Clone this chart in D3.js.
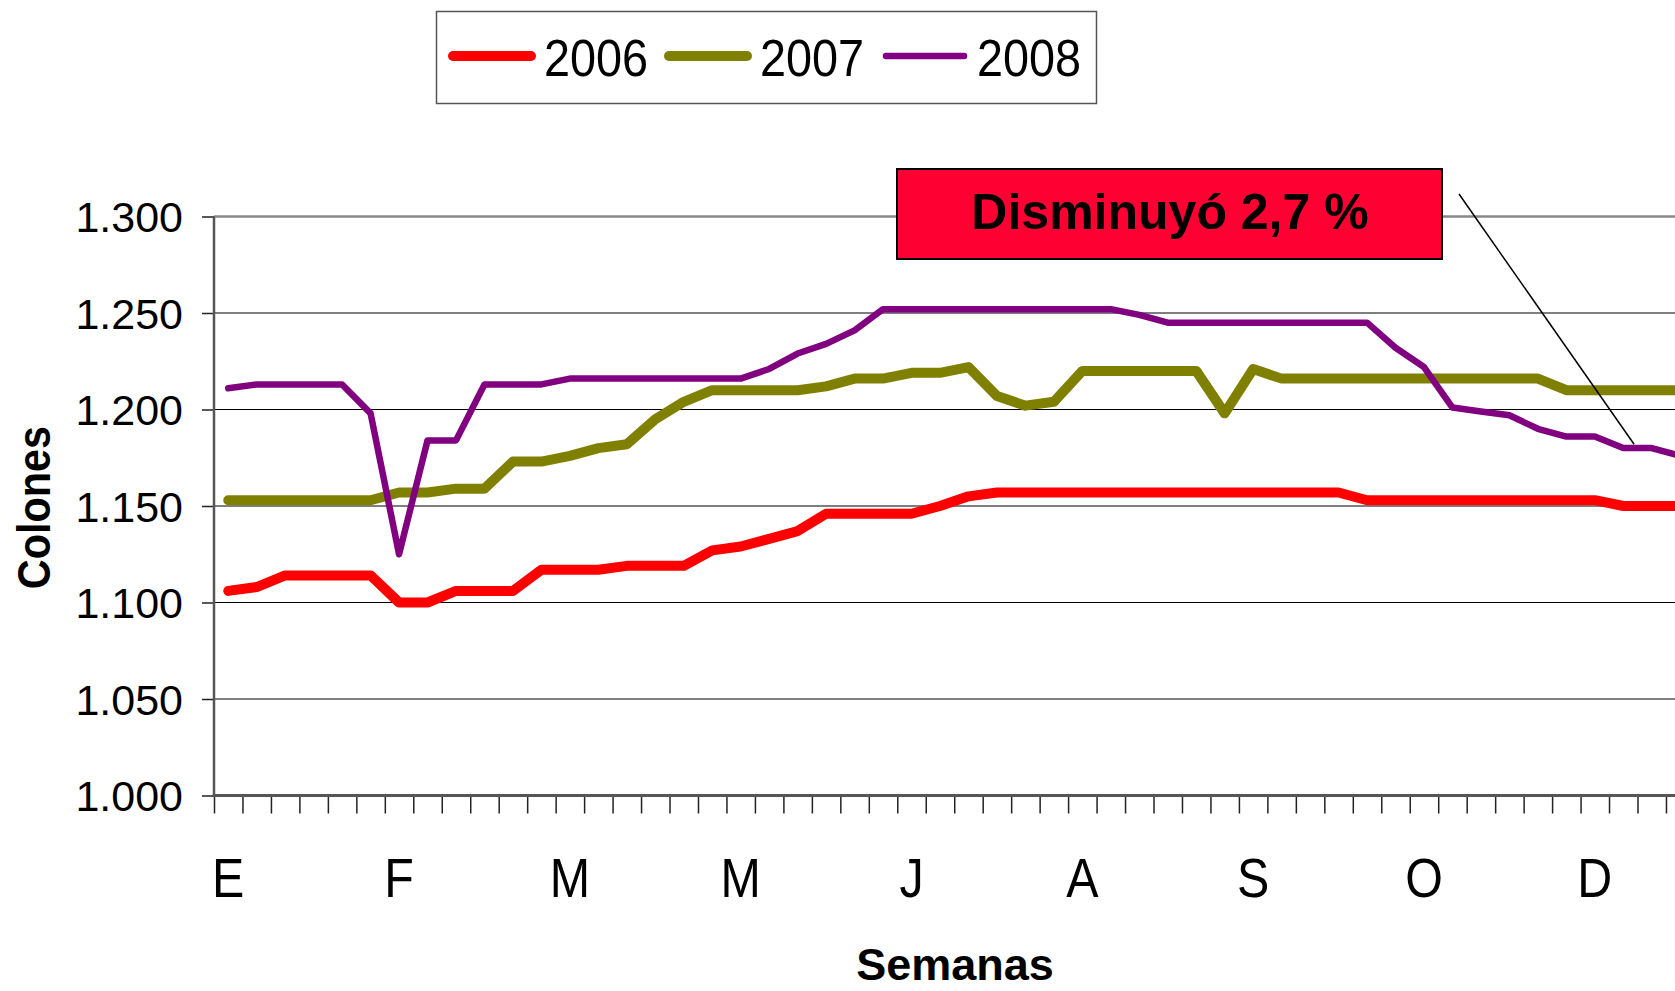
<!DOCTYPE html>
<html>
<head>
<meta charset="utf-8">
<script src="https://cdn.jsdelivr.net/npm/d3@7"></script>
<style>
body { margin: 0; background: #fff; }
svg { display: block; font-family: "Liberation Sans", Arial, sans-serif; }
</style>
</head>
<body>
<div id="chart"></div>
<script>
// semanas del año (categorias)
var semanas = d3.range(1, 53);
var meses = ["E", "F", "M", "M", "J", "A", "S", "O", "D"];
var mesSemana = [1, 7, 13, 19, 25, 31, 37, 43, 49];
var yTicks = [1000, 1050, 1100, 1150, 1200, 1250, 1300];
var years = ["2006", "2007", "2008"];
var colors = ["#ff0000", "#808000", "#800080"];

var v2006 = [1106, 1108, 1114, 1114, 1114, 1114, 1100, 1100, 1106, 1106, 1106, 1117, 1117,
  1117, 1119, 1119, 1119, 1127, 1129, 1133, 1137, 1146, 1146, 1146, 1146, 1150,
  1155, 1157, 1157, 1157, 1157, 1157, 1157, 1157, 1157, 1157, 1157, 1157, 1157,
  1157, 1153, 1153, 1153, 1153, 1153, 1153, 1153, 1153, 1153, 1150, 1150, 1150];
var v2007 = [1153, 1153, 1153, 1153, 1153, 1153, 1157, 1157, 1159, 1159, 1173, 1173, 1176,
  1180, 1182, 1195, 1204, 1210, 1210, 1210, 1210, 1212, 1216, 1216, 1219, 1219,
  1222, 1207, 1202, 1204, 1220, 1220, 1220, 1220, 1220, 1198, 1221, 1216, 1216,
  1216, 1216, 1216, 1216, 1216, 1216, 1216, 1216, 1210, 1210, 1210, 1210, 1210];
var v2008 = [1211, 1213, 1213, 1213, 1213, 1198, 1125, 1184, 1184, 1213, 1213, 1213, 1216,
  1216, 1216, 1216, 1216, 1216, 1216, 1221, 1229, 1234, 1241, 1252, 1252, 1252,
  1252, 1252, 1252, 1252, 1252, 1252, 1249, 1245, 1245, 1245, 1245, 1245, 1245,
  1245, 1245, 1232, 1222, 1201, 1199, 1197, 1190, 1186, 1186, 1180, 1180, 1176];
var series = [v2006, v2007, v2008];
var lineWidths = [10, 10, 6.5];

var width = 1675, height = 991;
var plotLeft = 214, plotTop = 216.5, plotBottom = 795.5;
var step = 28.47;
var plotRight = plotLeft + semanas.length * step;

var svg = d3.select("#chart")
  .append("svg")
  .attr("width", width)
  .attr("height", height);

var x = d3.scalePoint()
  .domain(semanas)
  .range([plotLeft, plotRight])
  .padding(0.5);

var xEdge = d3.scaleLinear()
  .domain([0, semanas.length])
  .range([plotLeft, plotRight]);

var y = d3.scaleLinear()
  .domain([1000, 1300])
  .range([plotBottom, plotTop]);

var locale = d3.formatLocale({decimal: ",", thousands: ".", grouping: [3], currency: ["", ""]});
var fmt = locale.format(",d");

// gridlines
svg.append("g")
  .selectAll("line")
  .data(yTicks.filter(function (d) { return d > 1000 && d < 1300; }))
  .enter().append("line")
  .attr("x1", plotLeft)
  .attr("x2", plotRight)
  .attr("y1", function (d) { return y(d); })
  .attr("y2", function (d) { return y(d); })
  .attr("stroke", "#000")
  .attr("stroke-width", 1.2);

// borde superior
svg.append("line")
  .attr("x1", plotLeft).attr("x2", plotRight)
  .attr("y1", y(1300)).attr("y2", y(1300))
  .attr("stroke", "#888")
  .attr("stroke-width", 2.5);

// eje y
var yAxis = svg.append("g")
  .attr("transform", "translate(" + plotLeft + ",0)")
  .call(d3.axisLeft(y).tickValues(yTicks).tickSize(12).tickPadding(19).tickFormat(fmt));
yAxis.select(".domain").remove();
yAxis.selectAll(".tick line").attr("stroke", "#222").attr("stroke-width", 1.5);
yAxis.selectAll(".tick text")
  .attr("font-size", 43)
  .attr("font-family", "Liberation Sans, Arial, sans-serif")
  .attr("fill", "#000")
  .attr("dy", "0.36em");

// eje x
var xAxis = svg.append("g")
  .attr("transform", "translate(0," + plotBottom + ")")
  .call(d3.axisBottom(xEdge).tickValues(d3.range(semanas.length + 1)).tickSize(18).tickFormat(""));
xAxis.select(".domain").remove();
xAxis.selectAll(".tick line").attr("stroke", "#222").attr("stroke-width", 1.5);

svg.append("line")
  .attr("x1", plotLeft).attr("x2", plotLeft)
  .attr("y1", plotTop).attr("y2", plotBottom)
  .attr("stroke", "#555")
  .attr("stroke-width", 2.5);

svg.append("line")
  .attr("x1", plotLeft).attr("x2", plotRight)
  .attr("y1", plotBottom).attr("y2", plotBottom)
  .attr("stroke", "#555")
  .attr("stroke-width", 3);

// etiquetas de meses
svg.append("g")
  .selectAll("text")
  .data(meses)
  .enter().append("text")
  .attr("transform", function (d, i) {
    return "translate(" + x(mesSemana[i]) + ",897) scale(0.88,1)";
  })
  .attr("text-anchor", "middle")
  .attr("font-size", 55)
  .text(function (d) { return d; });

// lineas
var line = d3.line()
  .x(function (d, i) { return x(semanas[i]); })
  .y(function (d) { return y(d); });

svg.append("g")
  .selectAll("path")
  .data(series)
  .enter().append("path")
  .attr("d", line)
  .attr("fill", "none")
  .attr("stroke", function (d, i) { return colors[i]; })
  .attr("stroke-width", function (d, i) { return lineWidths[i]; })
  .attr("stroke-linejoin", "round")
  .attr("stroke-linecap", "round");

// titulos de ejes
svg.append("text")
  .attr("x", 955)
  .attr("y", 980)
  .attr("text-anchor", "middle")
  .attr("font-size", 45)
  .attr("font-weight", "bold")
  .text("Semanas");

svg.append("text")
  .attr("transform", "translate(50,507.5) rotate(-90) scale(0.9,1)")
  .attr("text-anchor", "middle")
  .attr("font-size", 46)
  .attr("font-weight", "bold")
  .text("Colones");

// anotacion
svg.append("line")
  .attr("x1", 1459).attr("y1", 194)
  .attr("x2", xEdge(49.88)).attr("y2", y(1182))
  .attr("stroke", "#000")
  .attr("stroke-width", 1.5);

svg.append("rect")
  .attr("x", 897).attr("y", 169)
  .attr("width", 545).attr("height", 90)
  .attr("fill", "#ff0033")
  .attr("stroke", "#000")
  .attr("stroke-width", 2);

svg.append("text")
  .attr("x", 1170)
  .attr("y", 229)
  .attr("text-anchor", "middle")
  .attr("font-size", 50)
  .attr("font-weight", "bold")
  .text("Disminuyó 2,7 %");

// leyenda
svg.append("rect")
  .attr("x", 436.5).attr("y", 11.5)
  .attr("width", 660).attr("height", 92)
  .attr("fill", "#fff")
  .attr("stroke", "#555")
  .attr("stroke-width", 1.5);

var legendX = [453, 669, 886];
var legend = svg.append("g")
  .selectAll("g")
  .data(years)
  .enter().append("g");

legend.append("line")
  .attr("x1", function (d, i) { return legendX[i]; })
  .attr("x2", function (d, i) { return legendX[i] + 78; })
  .attr("y1", 56).attr("y2", 56)
  .attr("stroke", function (d, i) { return colors[i]; })
  .attr("stroke-width", function (d, i) { return lineWidths[i]; })
  .attr("stroke-linecap", "round");

legend.append("text")
  .attr("transform", function (d, i) {
    return "translate(" + (legendX[i] + 91) + ",76) scale(0.9,1)";
  })
  .attr("font-size", 52)
  .text(function (d) { return d; });
</script>
</body>
</html>
